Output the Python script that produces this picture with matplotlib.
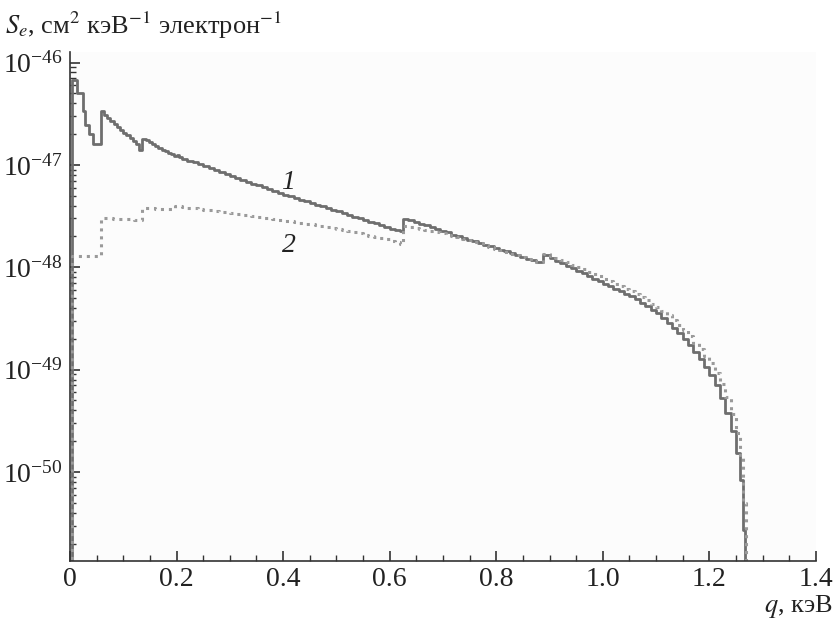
import matplotlib
matplotlib.use("Agg")
import matplotlib.pyplot as plt
import numpy as np
from matplotlib.ticker import MultipleLocator, FixedLocator, FixedFormatter, NullFormatter, LogFormatterSciNotation

plt.rcParams['font.family'] = ['Liberation Serif', 'DejaVu Serif']
plt.rcParams['mathtext.fontset'] = 'stix'

# Curve 1 (solid step line): q in keV, log10 of S_e (cm^2 keV^-1 electron^-1)
q1 = [0.0, 0.003, 0.013, 0.024, 0.028, 0.036, 0.043, 0.058, 0.064, 0.070, 0.076, 0.082,
      0.088, 0.094, 0.100, 0.106, 0.112, 0.118, 0.124, 0.130, 0.136, 0.142, 0.148, 0.154,
      0.160, 0.166, 0.172, 0.178, 0.184, 0.190, 0.196, 0.200, 0.205,
      0.21, 0.22, 0.23, 0.24, 0.25, 0.26, 0.27, 0.28, 0.29, 0.30, 0.31, 0.32, 0.33, 0.34,
      0.35, 0.36, 0.37, 0.38, 0.39, 0.40, 0.41, 0.42, 0.43, 0.44, 0.45, 0.46, 0.47, 0.48,
      0.49, 0.50, 0.51, 0.52, 0.53, 0.54, 0.55, 0.56, 0.57, 0.58, 0.59, 0.60, 0.61, 0.62,
      0.625, 0.635, 0.645, 0.655, 0.665, 0.675, 0.685, 0.695, 0.705, 0.715, 0.725, 0.735,
      0.745, 0.755, 0.765, 0.775, 0.785, 0.795, 0.805, 0.815, 0.825, 0.835, 0.845, 0.855,
      0.865, 0.875, 0.887,
      0.90, 0.91, 0.92, 0.93, 0.94, 0.95, 0.96, 0.97, 0.98, 0.99, 1.00, 1.01, 1.02, 1.03,
      1.04, 1.05, 1.06, 1.07, 1.08, 1.09, 1.10, 1.11, 1.12, 1.13, 1.14, 1.15, 1.16, 1.17,
      1.18, 1.19, 1.20, 1.21, 1.22, 1.23, 1.24, 1.25, 1.257, 1.263, 1.267]
logs1 = [-52, -46.174, -46.30, -46.475, -46.61, -46.70, -46.80, -46.475, -46.51, -46.54,
         -46.57, -46.60, -46.63, -46.66, -46.69, -46.71, -46.74, -46.77, -46.80, -46.85,
         -46.745, -46.76, -46.78, -46.80, -46.82, -46.835, -46.85, -46.865, -46.88, -46.895,
         -46.91, -46.90, -46.925,
         -46.94, -46.96, -46.975, -46.99, -47.01, -47.03, -47.05, -47.07, -47.09, -47.11,
         -47.13, -47.15, -47.165, -47.185, -47.20, -47.22, -47.24, -47.255, -47.27, -47.29,
         -47.305, -47.32, -47.34, -47.355, -47.37, -47.39, -47.405, -47.42, -47.44, -47.455,
         -47.47, -47.49, -47.505, -47.52, -47.54, -47.555, -47.57, -47.59, -47.605, -47.625,
         -47.64, -47.65,
         -47.525, -47.54, -47.56, -47.575, -47.59, -47.61, -47.625, -47.645, -47.66, -47.68,
         -47.695, -47.71, -47.73, -47.745, -47.76, -47.78, -47.795, -47.81, -47.83, -47.845,
         -47.865, -47.88, -47.895, -47.915, -47.93, -47.945, -47.883,
         -47.91, -47.935, -47.96, -47.985, -48.01, -48.035, -48.06, -48.085, -48.11, -48.135,
         -48.16, -48.185, -48.21, -48.235, -48.26, -48.285, -48.31, -48.345, -48.38, -48.415,
         -48.45, -48.495, -48.54, -48.59, -48.64, -48.70, -48.76, -48.83, -48.90, -48.975,
         -49.05, -49.15, -49.28, -49.42, -49.60, -49.81, -50.08, -50.57, -52]

# Curve 2 (dotted step line)
q2 = [0.0, 0.003, 0.058, 0.080, 0.100, 0.120, 0.135, 0.160, 0.180, 0.197,
      0.21, 0.22, 0.23, 0.24, 0.25, 0.26, 0.27, 0.28, 0.29, 0.30, 0.31, 0.32, 0.33, 0.34,
      0.35, 0.36, 0.37, 0.38, 0.39, 0.40, 0.41, 0.42, 0.43, 0.44, 0.45, 0.46, 0.47, 0.48,
      0.49, 0.50, 0.51, 0.52, 0.53, 0.54, 0.55, 0.56, 0.57, 0.58, 0.59, 0.60, 0.61, 0.62,
      0.625, 0.635, 0.645, 0.655, 0.665, 0.675, 0.685, 0.695, 0.705, 0.715, 0.725, 0.735,
      0.745, 0.755, 0.765, 0.775, 0.785, 0.795, 0.805, 0.815, 0.825, 0.835, 0.845, 0.855,
      0.865, 0.875, 0.887,
      0.90, 0.91, 0.92, 0.93, 0.94, 0.95, 0.96, 0.97, 0.98, 0.99, 1.00, 1.01, 1.02, 1.03,
      1.04, 1.05, 1.06, 1.07, 1.08, 1.09, 1.10, 1.11, 1.12, 1.13, 1.14, 1.15, 1.16, 1.17,
      1.18, 1.19, 1.20, 1.21, 1.22, 1.23, 1.24, 1.25, 1.257, 1.263, 1.268]
logs2 = [-52, -47.886, -47.52, -47.527, -47.533, -47.54, -47.42, -47.426, -47.432, -47.405,
         -47.41, -47.42, -47.425, -47.43, -47.438, -47.445, -47.452, -47.46, -47.465, -47.47,
         -47.478, -47.485, -47.492, -47.50, -47.508, -47.515, -47.522, -47.53, -47.538,
         -47.545, -47.552, -47.56, -47.568, -47.575, -47.582, -47.59, -47.60, -47.61, -47.62,
         -47.63, -47.64, -47.65, -47.66, -47.67, -47.68, -47.69, -47.70, -47.71, -47.725,
         -47.74, -47.755, -47.77,
         -47.60, -47.61, -47.62, -47.63, -47.64, -47.65, -47.66, -47.67, -47.68, -47.692,
         -47.705, -47.72, -47.735, -47.75, -47.765, -47.783, -47.80, -47.818, -47.835,
         -47.852, -47.87, -47.885, -47.90, -47.918, -47.935, -47.95, -47.87,
         -47.89, -47.91, -47.93, -47.952, -47.975, -47.998, -48.02, -48.042, -48.065, -48.088,
         -48.11, -48.135, -48.16, -48.185, -48.21, -48.235, -48.26, -48.29, -48.32, -48.355,
         -48.39, -48.43, -48.47, -48.515, -48.56, -48.615, -48.67, -48.735, -48.80, -48.87,
         -48.94, -49.03, -49.14, -49.27, -49.43, -49.62, -49.85, -50.30, -52]

x_ticks = [0.0, 0.2, 0.4, 0.6, 0.8, 1.0, 1.2, 1.4]
x_tick_labels = ["0", "0.2", "0.4", "0.6", "0.8", "1.0", "1.2", "1.4"]
y_ticks = [1e-50, 1e-49, 1e-48, 1e-47, 1e-46]

s1 = 10.0 ** np.array(logs1)
s2 = 10.0 ** np.array(logs2)

fig = plt.figure(figsize=(8.34, 6.22), dpi=100)
ax = fig.add_axes([0.0839, 0.098, 0.8945, 0.818])
ax.set_facecolor('#fcfcfc')

ax.plot(q1, s1, drawstyle='steps-post', color='#6e6e6e', lw=2.0)
ax.plot(q2, s2, drawstyle='steps-post', color='#9a9a9a', lw=2.2, linestyle=(0, (1, 1.6)))

ax.set_yscale('log')
ax.set_xlim(0, 1.4)
ax.set_ylim(1.35e-51, 1.26e-46)

ax.xaxis.set_major_locator(FixedLocator(x_ticks))
ax.xaxis.set_major_formatter(FixedFormatter(x_tick_labels))
ax.xaxis.set_minor_locator(MultipleLocator(0.05))
ax.yaxis.set_major_locator(FixedLocator(y_ticks))
ax.yaxis.set_major_formatter(LogFormatterSciNotation())
minor_y = [m * 10.0 ** e for e in range(-52, -45) for m in range(2, 10)
           if 1.35e-51 <= m * 10.0 ** e <= 1.26e-46]
ax.yaxis.set_minor_locator(FixedLocator(minor_y))
ax.yaxis.set_minor_formatter(NullFormatter())

for s in ['top', 'right']:
    ax.spines[s].set_visible(False)
for s in ['left', 'bottom']:
    ax.spines[s].set_linewidth(1.2)
    ax.spines[s].set_color('#333333')

ax.tick_params(axis='both', which='major', direction='in', length=7, width=1.2,
               labelsize=20, colors='#333333', labelcolor='#222222')
ax.tick_params(axis='both', which='minor', direction='in', length=4, width=1.0, colors='#333333')
ax.tick_params(axis='x', pad=4)
ax.tick_params(axis='y', pad=5)

ax.text(0.41, 6.8e-48, '1', fontsize=20, style='italic', ha='center', va='center', color='#222222')
ax.text(0.41, 1.64e-48, '2', fontsize=20, style='italic', ha='center', va='center', color='#222222')

fig.text(0.006, 0.945, r'$S_e$, см$^2$ кэВ$^{-1}$ электрон$^{-1}$', fontsize=19,
         ha='left', va='baseline', color='#222222')
fig.text(0.998, 0.016, r'$q$, кэВ', fontsize=19, ha='right', va='baseline', color='#222222')

fig.savefig('out.png', dpi=100)
